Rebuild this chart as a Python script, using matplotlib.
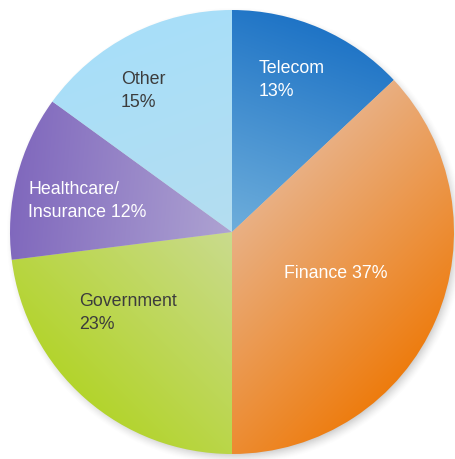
import numpy as np
import matplotlib
matplotlib.use("Agg")
import matplotlib.pyplot as plt
from matplotlib.colors import to_rgb

# ---- data ----
categories = ["Telecom", "Finance", "Government", "Healthcare/\nInsurance", "Other"]
shares = [13, 37, 23, 12, 15]
label_texts = ["Telecom\n13%", "Finance 37%", "Government\n23%", "Healthcare/\nInsurance 12%", "Other\n15%"]

# ---- style ----
inner_colors = ["#6eaedb", "#e9b084", "#cadb8e", "#aea3d2", "#b4ddf0"]
outer_colors = ["#1f74c6", "#ee7c0e", "#b3d42c", "#8068bd", "#a8dff9"]
grad_dirs = [70, -45, -135, 175, 110]   # degrees
text_colors = ["white", "white", "#3c3c3c", "white", "#3c3c3c"]
label_pos = [(259, 80), (284, 274), (79, 313), (28, 201), (121, 91)]  # image px, left/center

W, H = 455, 459
CX, CY, R = 232, 459 - 232, 222

plt.rcParams['font.family'] = ['Liberation Sans', 'DejaVu Sans']
fig = plt.figure(figsize=(W / 100, H / 100), dpi=100)
ax = fig.add_axes([0, 0, 1, 1])
ax.set_xlim(0, W)
ax.set_ylim(0, H)
ax.set_aspect('equal')
ax.axis('off')

# shadow
xs = np.arange(W) + 0.5
ys = np.arange(H) + 0.5
X, Y = np.meshgrid(xs, ys)
d = np.hypot(X - (CX + 3), Y - (CY - 4))
sh = np.clip((R + 7 - d) / 12.0, 0, 1) ** 1.5 * 0.35
shadow = np.zeros((H, W, 4))
shadow[..., :3] = 0.45
shadow[..., 3] = sh
ax.imshow(shadow, extent=(0, W, 0, H), origin='lower', zorder=0, interpolation='bilinear')

wedges, _ = ax.pie(shares, startangle=90, counterclock=False, center=(CX, CY),
                   radius=R, frame=True, wedgeprops=dict(linewidth=0))
ax.set_xlim(0, W)
ax.set_ylim(0, H)
ax.axis('off')

for w, ci, co, ang in zip(wedges, inner_colors, outer_colors, grad_dirs):
    w.set_facecolor('none')
    a = np.deg2rad(ang)
    t = ((X - CX) * np.cos(a) + (Y - CY) * np.sin(a)) / R
    t = np.clip(t, 0, 1)
    ci_, co_ = np.array(to_rgb(ci)), np.array(to_rgb(co))
    img = ci_[None, None, :] + (co_ - ci_)[None, None, :] * t[..., None]
    im = ax.imshow(img, extent=(0, W, 0, H), origin='lower', zorder=1, interpolation='bilinear')
    im.set_clip_path(w)

for txt, (px, py), col in zip(label_texts, label_pos, text_colors):
    ax.text(px, H - py, txt, color=col, fontsize=12.8, ha='left', va='center',
            linespacing=1.45, zorder=3)

fig.savefig("out.png", dpi=100)
